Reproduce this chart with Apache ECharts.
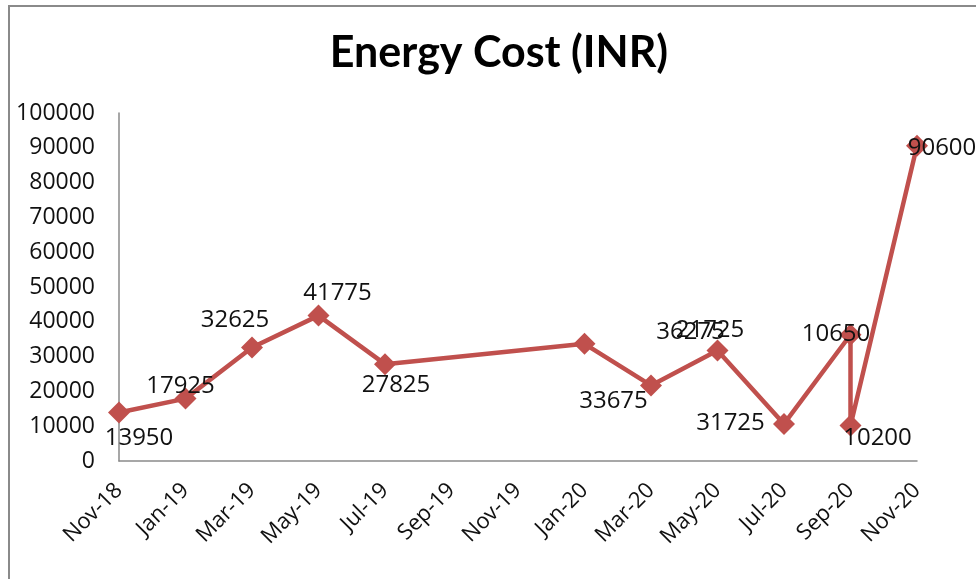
<!DOCTYPE html>
<html>
<head>
<meta charset="utf-8">
<script src="https://cdn.jsdelivr.net/npm/echarts@6/dist/echarts.min.js"></script>
<style>
  html, body { margin: 0; padding: 0; background: #fff; }
  #chart { width: 976px; height: 579px; }
</style>
</head>
<body>
<div id="chart"></div>
<script>
// data points: billing month + cost
const months = ["2018-11", "2019-01", "2019-03", "2019-05", "2019-07", "2020-01",
  "2020-03", "2020-05", "2020-07", "2020-09", "2020-09", "2020-11"];
const cost = [13950, 17925, 32625, 41775, 27825, 33675, 21725, 31725, 10650, 36275, 10200, 90600];
// axis ticks, every 2 months from Nov-18
const tickLabels = ["Nov-18", "Jan-19", "Mar-19", "May-19", "Jul-19", "Sep-19", "Nov-19",
  "Jan-20", "Mar-20", "May-20", "Jul-20", "Sep-20", "Nov-20"];

// where each data label sits relative to its marker (as in the source sheet)
const labelOffsets = [[20, 26], [-5, -12], [-17, -27], [19, -22], [11, 21], [29, 57],
  [59, -55], [13, 73], [52, -90], [-160, -3], [27, 13], [25, 2]];

const monthIdx = (s) => {
  const [y, m] = s.split("-").map(Number);
  return (y - 2018) * 12 + (m - 11);
};

const red = "#c0504d";
const font = "'Open Sans', sans-serif";

const points = months.map((m, i) => ({
  value: [monthIdx(m), cost[i]],
  label: { offset: labelOffsets[i] },
}));

const chart = echarts.init(document.getElementById("chart"), null, { renderer: "canvas" });
chart.setOption({
  animation: false,
  title: {
    text: "Energy Cost (INR)",
    left: 494,
    textAlign: "center",
    top: 27,
    textStyle: { fontFamily: "Lato, sans-serif", fontWeight: "bold", fontSize: 43, color: "#000" },
  },
  graphic: [
    {
      type: "polyline",
      shape: { points: [[9, 579], [9, 6], [976, 6]] },
      style: { stroke: "#8a8a8a", lineWidth: 2, fill: null },
    },
  ],
  grid: { left: 119, right: 59, top: 113, bottom: 118 },
  xAxis: {
    type: "value",
    min: 0,
    max: 24,
    interval: 2,
    axisLine: { lineStyle: { color: "#8a8a8a", width: 1.5 } },
    axisTick: { show: false },
    splitLine: { show: false },
    axisLabel: {
      rotate: 45,
      margin: 26,
      fontFamily: font,
      fontSize: 22,
      color: "#111",
      formatter: (v) => tickLabels[v / 2] || "",
    },
  },
  yAxis: {
    type: "value",
    min: 0,
    max: 100000,
    interval: 10000,
    axisLine: { show: true, lineStyle: { color: "#8a8a8a", width: 1.5 } },
    axisTick: { show: false },
    splitLine: { show: false },
    axisLabel: { margin: 24, fontFamily: font, fontSize: 23, color: "#111", formatter: (v) => String(v) },
  },
  series: [
    {
      type: "line",
      data: points,
      symbol: "diamond",
      symbolSize: 22,
      lineStyle: { color: red, width: 4.5 },
      itemStyle: { color: red },
      label: {
        show: true,
        position: "inside",
        fontFamily: font,
        fontSize: 24,
        color: "#111",
        formatter: (p) => p.value[1],
      },
      z: 3,
    },
  ],
});
</script>
</body>
</html>
